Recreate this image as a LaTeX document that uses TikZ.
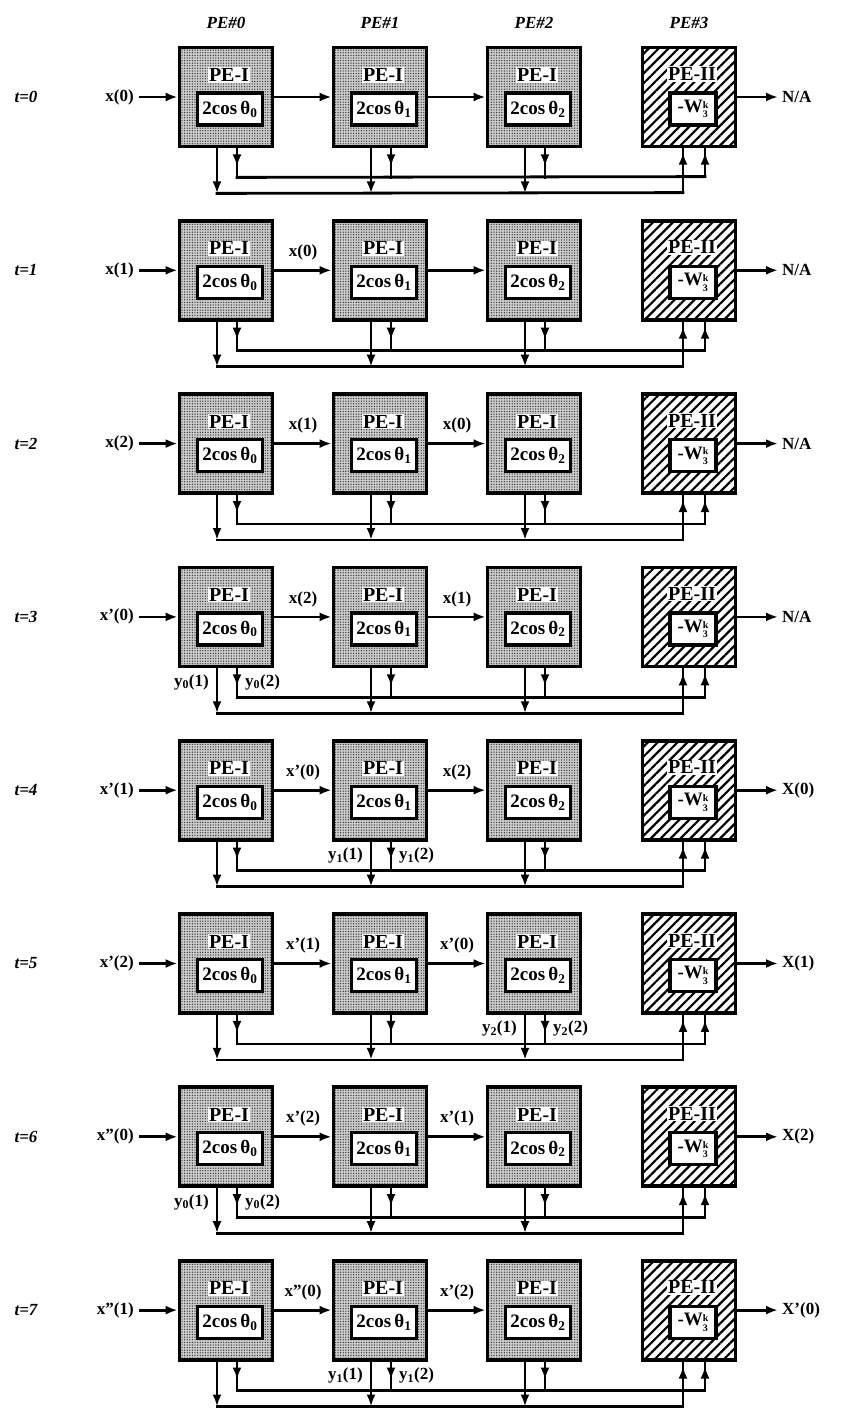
\documentclass[tikz,border=0pt]{standalone}
\usepackage{fontspec}
\setmainfont{Liberation Serif}
\usetikzlibrary{patterns.meta,arrows.meta,calc}
\newcommand{\wsub}{\raisebox{-5.5pt}{\fontsize{10}{14}\selectfont\shortstack[l]{k\\3}}}
\tikzset{
  conn/.style={line width=2.8pt,line cap=rect},
  arr/.style={line width=2.8pt,-{Latex[length=12pt,width=9pt]}},
  peibox/.style={draw,line width=3.8pt,minimum width=93pt,minimum height=99pt,inner sep=0pt,
    preaction={fill=gray!40},pattern={Dots[distance=2.6pt,radius=0.7pt]},pattern color=black!80},
  peiibox/.style={draw,line width=3.8pt,minimum width=93pt,minimum height=99pt,inner sep=0pt,
    preaction={fill=white},pattern={Lines[angle=45,distance=7pt,line width=2.2pt]}},
  innerbox/.style={draw,fill=white,line width=3.2pt,minimum height=32pt,inner sep=0pt,
    font=\fontsize{19}{20}\selectfont\bfseries},
  pelab/.style={fill=white,inner sep=1pt,font=\fontsize{20}{22}\selectfont\bfseries},
  txt/.style={inner sep=0pt,font=\fontsize{17}{19}\selectfont\bfseries},
  head/.style={inner sep=0pt,font=\fontsize{17}{19}\selectfont\bfseries\itshape},
}
\begin{document}
\begin{tikzpicture}[x=1pt,y=-1pt]
\useasboundingbox (0,0) rectangle (841,1410);
\foreach \k/\cx in {0/226,1/380,2/534,3/689}
  \node[head] (h\k) at (\cx,23) {PE\#\k};
\foreach \i/\inp/\ol in {0/x(0)/{N/A},1/x(1)/{N/A},2/x(2)/{N/A},3/x’(0)/{N/A},
    4/x’(1)/X(0),5/x’(2)/X(1),6/x”(0)/X(2),7/x”(1)/X’(0)}{
  \pgfmathsetmacro{\yy}{97+173.3*\i}
  \node[head] (t\i) at (26,\yy) {t=\i};
  \node[txt,anchor=east] (in\i) at (134,\yy) {\inp};
  \foreach \k/\cx in {0/226,1/380,2/534}{
    \node[peibox] (b\i\k) at (\cx,\yy) {};
    \node[innerbox,minimum width=65pt] (w\i\k) at (\cx+4,\yy+12) {2cos\,θ\textsubscript{\k}};
    \node[pelab] (l\i\k) at (\cx+3,\yy-22) {PE-I};
    \draw[arr] ($(b\i\k.south)+(-9,0)$) -- ($(b\i\k.south)+(-9,45)$);
    \draw[conn] ($(b\i\k.south)+(11,0)$) -- ($(b\i\k.south)+(11,29)$);
    \draw[arr] ($(b\i\k.south)+(11,0)$) -- ($(b\i\k.south)+(11,18)$);
  }
  \node[peiibox] (b\i3) at (689,\yy) {};
  \node[innerbox,minimum width=46pt] (w\i3) at (693,\yy+12) {-W\wsub};
  \node[pelab] (l\i3) at (692,\yy-23) {PE-II};
  \draw[conn] ($(b\i3.south)+(-6,45)$) -- ($(b\i3.south)+(-6,0)$);
  \draw[arr] ($(b\i3.south)+(-6,45)$) -- ($(b\i3.south)+(-6,5)$);
  \draw[conn] ($(b\i3.south)+(16,29)$) -- ($(b\i3.south)+(16,0)$);
  \draw[arr] ($(b\i3.south)+(16,29)$) -- ($(b\i3.south)+(16,5)$);
  \draw[conn] ($(b\i0.south)+(-9,45)$) -- ($(b\i3.south)+(-6,45)$);
  \draw[conn] ($(b\i0.south)+(11,29)$) -- ($(b\i3.south)+(16,29)$);
  \draw[arr,shorten <=5pt] (in\i.east) -- (b\i0.west);
  \draw[arr] (b\i0.east) -- (b\i1.west);
  \draw[arr] (b\i1.east) -- (b\i2.west);
  \node[txt,anchor=west] (o\i) at (782,\yy) {\ol};
  \draw[arr,shorten >=4pt] (b\i3.east) -- (o\i.west);
}
\foreach \i/\g/\tx in {1/0/x(0),2/0/x(1),2/1/x(0),3/0/x(2),3/1/x(1),4/0/x’(0),4/1/x(2),
    5/0/x’(1),5/1/x’(0),6/0/x’(2),6/1/x’(1),7/0/x”(0),7/1/x’(2)}{
  \pgfmathtruncatemacro{\hh}{\g+1}
  \path (b\i\g.east) -- node[txt,above=10pt] (m\i\g) {\tx} (b\i\hh.west);
}
\foreach \i/\k in {3/0,4/1,5/2,6/0,7/1}{
  \node[txt,anchor=east] (ya\i) at ($(b\i\k.south)+(-17,14)$) {y\textsubscript{\k}(1)};
  \node[txt,anchor=west] (yb\i) at ($(b\i\k.south)+(19,14)$) {y\textsubscript{\k}(2)};
}
\end{tikzpicture}
\end{document}
